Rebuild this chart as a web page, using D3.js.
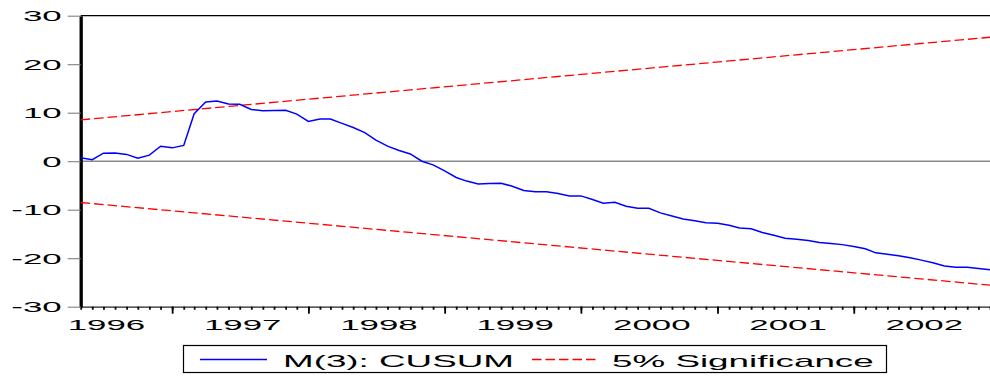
<!DOCTYPE html>
<html>
<head>
<meta charset="utf-8">
<script src="https://cdn.jsdelivr.net/npm/d3@7"></script>
<style>
  body { margin: 0; background: white; }
  text { font-family: "Liberation Sans", Arial, sans-serif; fill: black; }
</style>
</head>
<body>
<div id="chart"></div>
<script>
// monthly observations, 1996M05 .. 2003M01
var months = d3.timeMonth.range(new Date(1996, 4, 1), new Date(2003, 0, 2))

var cusum = [0.7, 0.3, 1.65, 1.7, 1.4, 0.6, 1.25, 3.1, 2.75, 3.25, 9.8, 12.2, 12.4, 11.8,
  11.75, 10.65, 10.4, 10.45, 10.5, 9.7, 8.2, 8.7, 8.7, 7.8, 6.95, 5.9, 4.35, 3.1,
  2.2, 1.5, 0.0, -0.75, -2.0, -3.35, -4.1, -4.7, -4.6, -4.55, -5.15, -6.05, -6.3,
  -6.3, -6.65, -7.15, -7.15, -7.9, -8.65, -8.45, -9.3, -9.7, -9.7, -10.65, -11.3, -11.9,
  -12.3, -12.7, -12.8, -13.2, -13.75, -13.95, -14.7, -15.25, -15.9, -16.1, -16.35, -16.75, -16.95,
  -17.2, -17.6, -18.05, -18.9, -19.2, -19.5, -19.9, -20.4, -20.95, -21.6, -21.85, -21.85, -22.1, -22.4]

// 5% bands are straight lines: value at first and last observation
var sigUpper = [8.52, 25.56]
var sigLower = [-8.52, -25.56]

var yTicks = [-30, -20, -10, 0, 10, 20, 30]
var yearLabels = [1996, 1997, 1998, 1999, 2000, 2001, 2002]
var legendLabels = ["M(3): CUSUM", "5% Significance"]

var WIDTH = 990, HEIGHT = 379
var PLOT = {LEFT: 80.7, RIGHT: 990, TOP: 15.7, BOTTOM: 306.7}
var SX = 2.25   // the source picture is stretched horizontally

const svg = d3.select("#chart").append("svg")
  .attr("width", WIDTH)
  .attr("height", HEIGHT)

var x = d3.scaleTime()
  .domain([months[0], months[months.length - 1]])
  .range([PLOT.LEFT, PLOT.RIGHT])

var y = d3.scaleLinear()
  .domain([-30, 30])
  .range([PLOT.BOTTOM, PLOT.TOP])

// top frame
svg.append("line")
  .attr("x1", PLOT.LEFT).attr("x2", PLOT.RIGHT)
  .attr("y1", PLOT.TOP).attr("y2", PLOT.TOP)
  .attr("stroke", "black").attr("stroke-width", 1.3)

// zero line
svg.append("line")
  .attr("x1", PLOT.LEFT).attr("x2", PLOT.RIGHT)
  .attr("y1", y(0)).attr("y2", y(0))
  .attr("stroke", "#8a8a8a").attr("stroke-width", 1.6)

// x axis: monthly minor ticks, yearly major ticks
var xMinor = svg.append("g")
  .attr("transform", `translate(0, ${PLOT.BOTTOM})`)
  .call(d3.axisBottom(x).tickValues(months).tickSize(3).tickSizeOuter(0).tickFormat(""))
xMinor.select(".domain").attr("stroke", "#222").attr("stroke-width", 1.2)
xMinor.selectAll(".tick line").attr("stroke", "black").attr("stroke-width", 1.8)

var xMajor = svg.append("g")
  .attr("transform", `translate(0, ${PLOT.BOTTOM})`)
  .call(d3.axisBottom(x).tickValues(yearLabels.slice(1).map(d => new Date(d, 0, 1)))
    .tickSize(7).tickSizeOuter(0).tickFormat(""))
xMajor.select(".domain").remove()
xMajor.selectAll(".tick line").attr("stroke", "black").attr("stroke-width", 1.8)

svg.append("g").selectAll("g")
  .data(yearLabels)
  .join("g")
  .attr("transform", d => `translate(${x(new Date(d, 6, 1)) + 3}, 329.5) scale(${SX}, 1)`)
  .append("text")
  .attr("text-anchor", "middle")
  .style("font-size", "15.5px")
  .text(d => d)

// y axis
var yAxis = svg.append("g")
  .attr("transform", `translate(${PLOT.LEFT}, 0)`)
  .call(d3.axisLeft(y).tickValues(yTicks).tickSize(13).tickSizeOuter(0))
yAxis.select(".domain").attr("stroke", "black").attr("stroke-width", 3.3)
yAxis.selectAll(".tick line").attr("stroke", "#808080").attr("stroke-width", 1.1)
yAxis.selectAll(".tick text")
  .attr("x", -19 / SX)
  .attr("transform", `scale(${SX}, 1)`)
  .attr("fill", "black")
  .style("font-size", "15.5px")
  .style("font-family", "'Liberation Sans', Arial, sans-serif")
  .text(d => d < 0 ? "-" + Math.abs(d) : d)

// significance bands
var ends = [months[0], months[months.length - 1]]
var bandLine = d3.line().x((d, i) => x(ends[i])).y(d => y(d))

svg.append("path")
  .datum(sigUpper)
  .attr("d", bandLine)
  .attr("fill", "none").attr("stroke", "#ff0000").attr("stroke-width", 1.3)
  .attr("stroke-dasharray", "9.5,4")

svg.append("path")
  .datum(sigLower)
  .attr("d", bandLine)
  .attr("fill", "none").attr("stroke", "#ff0000").attr("stroke-width", 1.3)
  .attr("stroke-dasharray", "9.5,4")

// CUSUM line
svg.append("path")
  .datum(cusum)
  .attr("d", d3.line().x((d, i) => x(months[i])).y(d => y(d)))
  .attr("fill", "none").attr("stroke", "#0000ff").attr("stroke-width", 1.5)

// legend
var legend = svg.append("g")

legend.append("rect")
  .attr("x", 183.5).attr("y", 345.5)
  .attr("width", 703).attr("height", 27)
  .attr("fill", "white").attr("stroke", "black").attr("stroke-width", 1.2)

legend.append("line")
  .attr("x1", 200).attr("x2", 267).attr("y1", 359.5).attr("y2", 359.5)
  .attr("stroke", "#0000ff").attr("stroke-width", 1.3)

legend.append("line")
  .attr("x1", 532).attr("x2", 599).attr("y1", 359.5).attr("y2", 359.5)
  .attr("stroke", "#ff0000").attr("stroke-width", 1.3)
  .attr("stroke-dasharray", "9.5,4")

var legendX = [283, 612]
legend.selectAll("g.lab")
  .data(legendLabels)
  .join("g")
  .attr("class", "lab")
  .attr("transform", (d, i) => `translate(${legendX[i]}, 366.5) scale(2.3, 1)`)
  .append("text")
  .style("font-size", "16px")
  .text(d => d)
</script>
</body>
</html>
